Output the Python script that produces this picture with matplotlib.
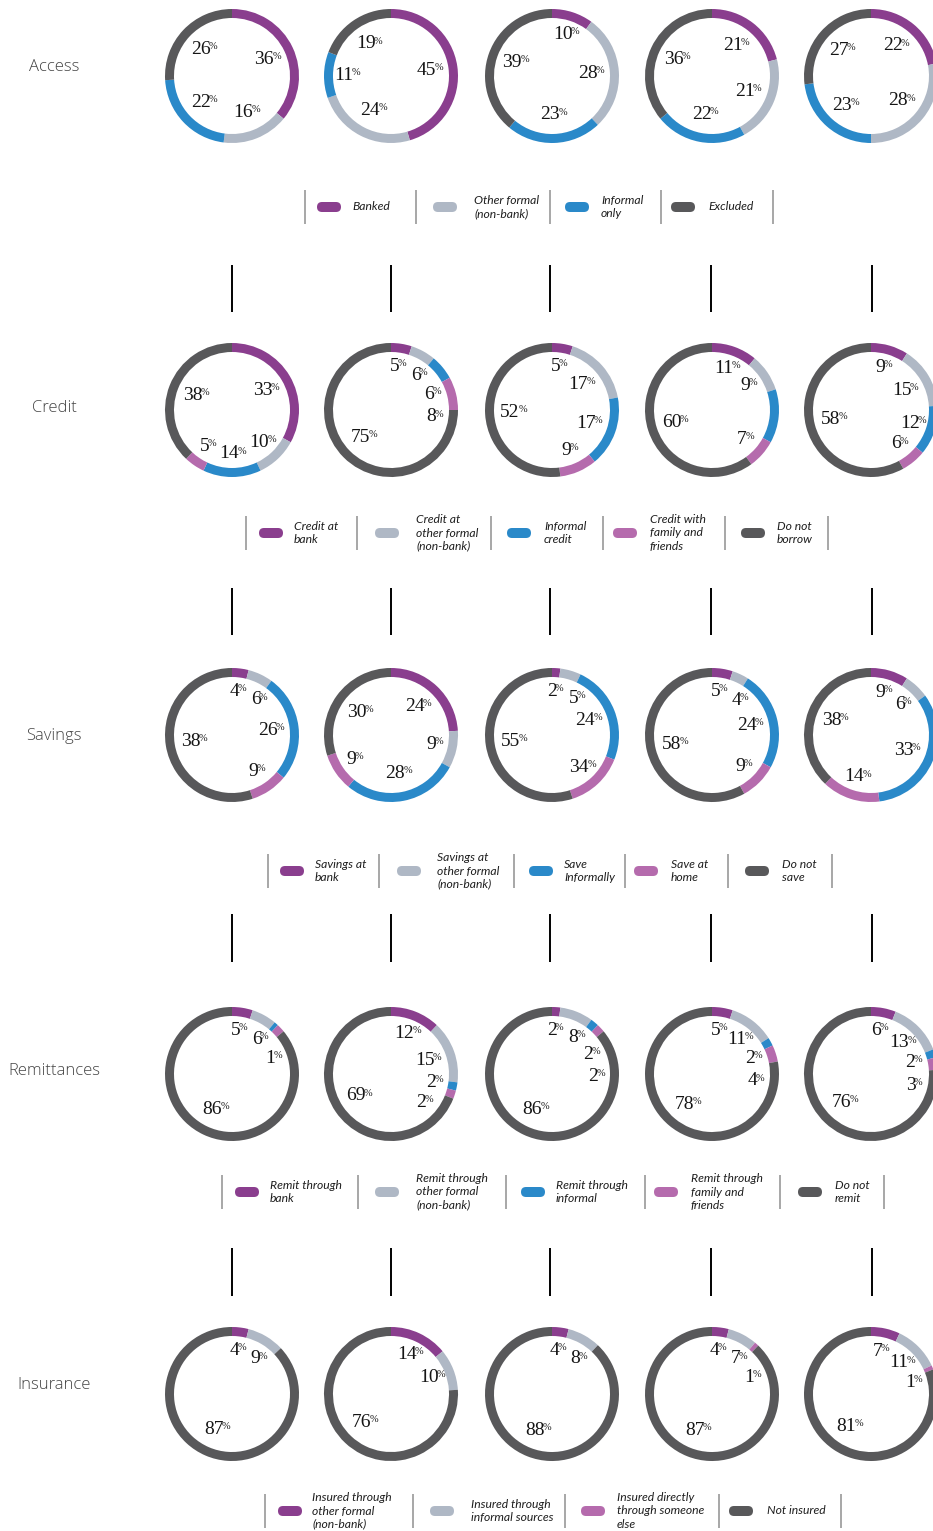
import matplotlib
matplotlib.use('Agg')
import matplotlib.pyplot as plt
from matplotlib.patches import FancyBboxPatch
import numpy as np

W, H = 933, 1531

# colours
PURPLE = '#8a3e8e'
LGRAY = '#afb8c5'
BLUE = '#2a89c9'
PINK = '#b56bad'
DARK = '#58585a'

# ---- data -------------------------------------------------------------
row_names = ['Access', 'Credit', 'Savings', 'Remittances', 'Insurance']

access_legend = ['Banked', 'Other formal\n(non-bank)', 'Informal\nonly', 'Excluded']
access_arcs = [[36, 16, 22, 26], [45, 24, 11, 19], [10, 28, 23, 39],
               [21, 21, 22, 36], [22, 28, 23, 27]]
access_text = access_arcs

credit_legend = ['Credit at\nbank', 'Credit at\nother formal\n(non-bank)', 'Informal\ncredit',
                 'Credit with\nfamily and\nfriends', 'Do not\nborrow']
credit_arcs = [[33, 10, 14, 5, 38], [5, 6, 6, 8, 75], [5, 17, 17, 9, 52],
               [11, 9, 13, 7, 60], [9, 15, 12, 6, 58]]
credit_text = [[33, 10, 14, 5, 38], [5, 6, 6, 8, 75], [5, 17, 17, 9, 52],
               [11, 9, None, 7, 60], [9, 15, 12, 6, 58]]

savings_legend = ['Savings at\nbank', 'Savings at\nother formal\n(non-bank)', 'Save\nInformally',
                  'Save at\nhome', 'Do not\nsave']
savings_arcs = [[4, 6, 26, 9, 55], [24, 9, 28, 9, 30], [2, 5, 24, 14, 55],
                [5, 4, 24, 9, 58], [9, 6, 33, 14, 38]]
savings_text = [[4, 6, 26, 9, 38], [24, 9, 28, 9, 30], [2, 5, 24, 34, 55],
                [5, 4, 24, 9, 58], [9, 6, 33, 14, 38]]

remit_legend = ['Remit through\nbank', 'Remit through\nother formal\n(non-bank)',
                'Remit through\ninformal', 'Remit through\nfamily and\nfriends', 'Do not\nremit']
remit_arcs = [[5, 6, 1, 2, 86], [12, 15, 2, 2, 69], [2, 8, 2, 2, 86],
              [5, 11, 2, 4, 78], [6, 13, 2, 3, 76]]
remit_text = [[5, 6, 1, None, 86], [12, 15, 2, 2, 69], [2, 8, 2, 2, 86],
              [5, 11, 2, 4, 78], [6, 13, 2, 3, 76]]

insur_legend = ['Insured through\nother formal\n(non-bank)', 'Insured through\ninformal sources',
                'Insured directly\nthrough someone\nelse', 'Not insured']
insur_arcs = [[4, 9, 0, 87], [14, 10, 0, 76], [4, 8, 0, 88],
              [4, 7, 1, 87], [7, 11, 1, 81]]
insur_text = [[4, 9, None, 87], [14, 10, None, 76], [4, 8, None, 88],
              [4, 7, 1, 87], [7, 11, 1, 81]]

# ---- layout (pixels from top-left) -----------------------------------
R = 67
RING = 9
col_x = [232, 391, 552, 712, 871]
row_y = [76, 410, 735, 1074, 1394]
name_y = [67, 408, 736, 1071, 1385]
GAP = 30

legends = [
    dict(y=207, seps=[305, 416, 550, 661, 773],
         pills=[317, 433, 565, 671], texts=[352, 474, 601, 708]),
    dict(y=533, seps=[246, 357, 491, 603, 725, 828],
         pills=[259, 375, 507, 613, 741], texts=[294, 416, 544, 650, 777]),
    dict(y=871, seps=[268, 379, 514, 625, 728, 832],
         pills=[280, 397, 529, 634, 745], texts=[315, 437, 564, 671, 782]),
    dict(y=1192, seps=[222, 358, 506, 645, 780, 884],
         pills=[235, 375, 521, 654, 798], texts=[270, 416, 556, 691, 835]),
    dict(y=1511, seps=[265, 413, 565, 719, 841],
         pills=[278, 430, 581, 729], texts=[312, 471, 617, 767]),
]
connector_y = [(265, 312), (588, 635), (914, 962), (1248, 1296)]


def Y(py):
    return H - py


def draw_ring(ax, cx, cy, arcs, text, colors):
    ax.pie(arcs, colors=colors, startangle=90, counterclock=False,
           radius=R, center=(cx, Y(cy)),
           wedgeprops=dict(width=RING, edgecolor='none', linewidth=0))

    total = float(sum(arcs))
    cum = 0.0
    mids = []
    for v, t in zip(arcs, text):
        if t is not None:
            mids.append([360.0 * (cum + v / 2.0) / total, t, v])
        cum += v
    # push crowded labels apart, clockwise
    for i in range(1, len(mids)):
        if mids[i][0] - mids[i - 1][0] < GAP:
            mids[i][0] = mids[i - 1][0] + GAP

    for ang, t, v in mids:
        a = np.radians(ang)
        lr = 44 if v < 15 else 39
        x = cx + lr * np.sin(a) - 3
        y = Y(cy) + lr * np.cos(a)
        num = ax.text(x, y, str(t), ha='center', va='center', fontsize=14,
                      family='Liberation Serif', color='#151515')
        ax.annotate('%', xy=(1.0, 0.93), xycoords=num, xytext=(-1.2, 0),
                    textcoords='offset points', ha='left', va='top',
                    fontsize=7.5, family='Liberation Serif', color='#151515')


def draw_legend(ax, spec, labels, colors):
    y = spec['y']
    for sx in spec['seps']:
        ax.plot([sx, sx], [Y(y - 17), Y(y + 17)], color='#8f8f8f', lw=1.1,
                solid_capstyle='butt')
    for px, tx, lab, c in zip(spec['pills'], spec['texts'], labels, colors):
        ax.add_patch(FancyBboxPatch((px, Y(y) - 5), 24, 10,
                                    boxstyle='round,pad=0,rounding_size=5',
                                    facecolor=c, edgecolor='none'))
        ax.text(tx, Y(y), lab, ha='left', va='center', fontsize=8.7,
                style='italic', family='Lato', color='#1e1e1e', linespacing=1.25)


def main():
    fig = plt.figure(figsize=(W / 100, H / 100), dpi=100)
    ax = fig.add_axes([0, 0, 1, 1])

    rows = [
        (access_arcs, access_text, access_legend, [PURPLE, LGRAY, BLUE, DARK]),
        (credit_arcs, credit_text, credit_legend, [PURPLE, LGRAY, BLUE, PINK, DARK]),
        (savings_arcs, savings_text, savings_legend, [PURPLE, LGRAY, BLUE, PINK, DARK]),
        (remit_arcs, remit_text, remit_legend, [PURPLE, LGRAY, BLUE, PINK, DARK]),
        (insur_arcs, insur_text, insur_legend, [PURPLE, LGRAY, PINK, DARK]),
    ]

    for r, (arcs, text, legend, colors) in enumerate(rows):
        for c in range(len(col_x)):
            draw_ring(ax, col_x[c], row_y[r], arcs[c], text[c], colors)
        ax.text(54, Y(name_y[r]), row_names[r], ha='center', va='center',
                fontsize=12, family='Open Sans', weight='light', color='#444444')
        draw_legend(ax, legends[r], legend, colors)

    # black connector ticks between the rows
    for y0, y1 in connector_y:
        for x in [232, 391, 550, 711, 872]:
            ax.plot([x, x], [Y(y0), Y(y1)], color='black', lw=1.4,
                    solid_capstyle='butt')

    ax.set_xlim(0, W)
    ax.set_ylim(0, H)
    ax.set_aspect('auto')
    ax.set_axis_off()

    fig.savefig('out.png', dpi=100)
    plt.close(fig)


if __name__ == '__main__':
    main()
